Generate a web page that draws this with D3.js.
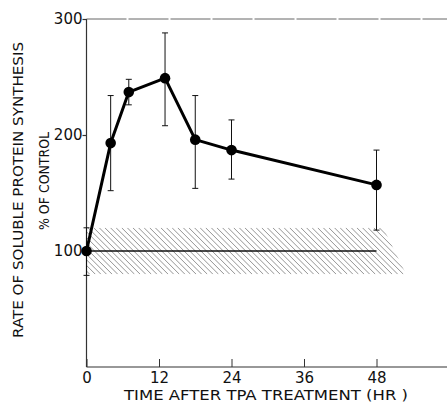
<!DOCTYPE html>
<html>
<head>
<meta charset="utf-8">
<script src="https://cdn.jsdelivr.net/npm/d3@7/dist/d3.min.js"></script>
<style>
  body { margin: 0; background: #fff; }
  text { font-family: "DejaVu Sans", sans-serif; fill: #111; }
</style>
</head>
<body>
<div id="chart"></div>
<script>
// data
var hours   = [0, 4, 7, 13, 18, 24, 48];
var rate    = [100, 193, 237, 249, 196, 187, 157];
var errHigh = [120, 234, 248, 288, 234, 213, 187];
var errLow  = [79, 152, 226, 208, 154, 162, 118];
var xTicks  = [0, 12, 24, 36, 48];
var yTicks  = [100, 200, 300];
var bandTop = 120, bandBottom = 80, bandEndTop = 49.1, bandEndBottom = 52.9;
var controlLevel = 100;

var svg = d3.select("#chart").append("svg").attr("width", 447).attr("height", 404);

var x = d3.scaleLinear().domain([0, 48]).range([86.5, 376.5]);
var y = d3.scaleLinear().domain([0, 300]).range([367, 19]);

// hatched control band
var band = [[0, bandTop], [bandEndTop, bandTop], [bandEndBottom, bandBottom], [0, bandBottom]];
svg.append("clipPath").attr("id", "bandclip")
  .append("polygon")
  .attr("points", band.map(function(d){ return x(d[0]) + "," + y(d[1]); }).join(" "));

var hatch = svg.append("g").attr("clip-path", "url(#bandclip)");
var bTop = y(bandTop), bBot = y(bandBottom);
for (var s = x(0) - 60; s < x(bandEndBottom) + 10; s += 5.6) {
  hatch.append("line")
    .attr("x1", s).attr("y1", bTop)
    .attr("x2", s + (bBot - bTop)).attr("y2", bBot)
    .attr("stroke", "#666").attr("stroke-width", 0.7);
}

// control line
svg.append("line")
  .attr("x1", x(0)).attr("x2", x(48))
  .attr("y1", y(controlLevel)).attr("y2", y(controlLevel))
  .attr("stroke", "#111").attr("stroke-width", 1.3);

// frame lines
svg.append("line").attr("x1", x(0)).attr("x2", 447).attr("y1", y(300)).attr("y2", y(300))
  .attr("stroke", "#555").attr("stroke-width", 0.9).attr("stroke-dasharray", "40,2");
svg.append("line").attr("x1", x(0)).attr("x2", 447).attr("y1", y(0)).attr("y2", y(0))
  .attr("stroke", "#333").attr("stroke-width", 1.2);
svg.append("line").attr("x1", x(0)).attr("x2", x(0)).attr("y1", y(300)).attr("y2", y(0))
  .attr("stroke", "#333").attr("stroke-width", 1.2);

// axes
var xAxis = d3.axisBottom(x).tickValues(xTicks).tickSizeInner(-8).tickSizeOuter(0).tickPadding(5);
var gx = svg.append("g").attr("transform", "translate(0," + y(0) + ")").call(xAxis);
gx.select(".domain").remove();
gx.selectAll(".tick line").attr("stroke", "#333");
gx.selectAll(".tick text").attr("font-size", 15).style("font-family", "'DejaVu Sans', sans-serif").style("fill", "#111");

var yAxis = d3.axisLeft(y).tickValues(yTicks).tickSizeInner(4).tickSizeOuter(0).tickPadding(0);
var gy = svg.append("g").attr("transform", "translate(" + x(0) + ",0)").call(yAxis);
gy.select(".domain").remove();
gy.selectAll(".tick line").attr("stroke", "#333").attr("stroke-width", 1.2);
gy.selectAll(".tick text").attr("font-size", 15).style("font-family", "'DejaVu Sans', sans-serif").style("fill", "#111");

// error bars
var pts = hours.map(function(h, i){ return {h: h, v: rate[i], hi: errHigh[i], lo: errLow[i]}; });
var eb = svg.append("g").attr("stroke", "#111").attr("stroke-width", 1);
pts.forEach(function(d){
  eb.append("line").attr("x1", x(d.h)).attr("x2", x(d.h)).attr("y1", y(d.hi)).attr("y2", y(d.lo));
  eb.append("line").attr("x1", x(d.h) - 3).attr("x2", x(d.h) + 3).attr("y1", y(d.hi)).attr("y2", y(d.hi));
  eb.append("line").attr("x1", x(d.h) - 3).attr("x2", x(d.h) + 3).attr("y1", y(d.lo)).attr("y2", y(d.lo));
});

// curve
var line = d3.line().x(function(d){ return x(d.h); }).y(function(d){ return y(d.v); });
svg.append("path").datum(pts).attr("d", line)
  .attr("fill", "none").attr("stroke", "#000").attr("stroke-width", 3).attr("stroke-linejoin", "round");

svg.selectAll("circle.pt").data(pts).enter().append("circle")
  .attr("class", "pt")
  .attr("cx", function(d){ return x(d.h); })
  .attr("cy", function(d){ return y(d.v); })
  .attr("r", 5.3).attr("fill", "#000");

// labels
svg.append("text").attr("x", 266).attr("y", 400).attr("text-anchor", "middle")
  .attr("font-size", 14).attr("textLength", 284).attr("lengthAdjust", "spacingAndGlyphs")
  .text("TIME AFTER TPA TREATMENT (HR )");

svg.append("text").attr("transform", "translate(23,190) rotate(-90)").attr("text-anchor", "middle")
  .attr("font-size", 13.5).attr("textLength", 296).attr("lengthAdjust", "spacingAndGlyphs")
  .text("RATE OF SOLUBLE PROTEIN SYNTHESIS");
svg.append("text").attr("transform", "translate(49,181) rotate(-90)").attr("text-anchor", "middle")
  .attr("font-size", 13.5).attr("textLength", 98).attr("lengthAdjust", "spacingAndGlyphs")
  .text("% OF CONTROL");
</script>
</body>
</html>
